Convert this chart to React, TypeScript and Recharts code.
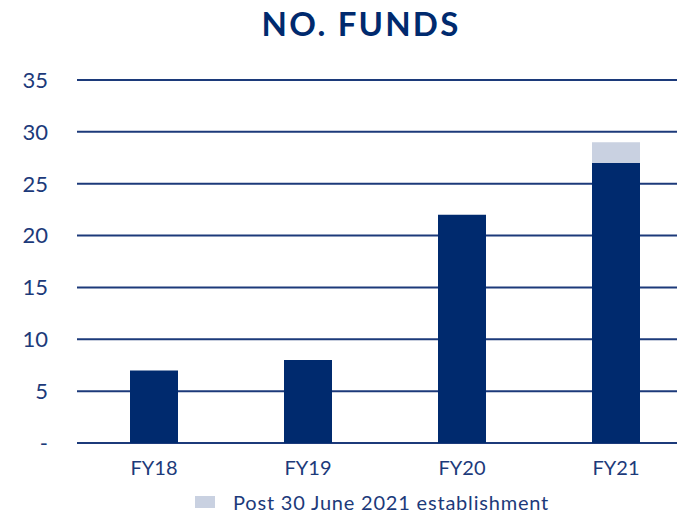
import React from 'react';
import { BarChart, Bar, XAxis, YAxis, CartesianGrid, Legend } from 'recharts';

const years = ['FY18', 'FY19', 'FY20', 'FY21'];
const establishedFunds = [7, 8, 22, 27];
const postJuneFunds = [0, 0, 0, 2];
const yTicks = [0, 5, 10, 15, 20, 25, 30, 35];

const NAVY = '#002a6e';
const LIGHT = '#c9d1e1';
const TEXT = '#1c3a7a';

const data = years.map((year, i) => ({
  year,
  established: establishedFunds[i],
  post: postJuneFunds[i],
}));

const LegendContent = () => (
  <div style={{ display: 'flex', alignItems: 'center', paddingLeft: 195, paddingTop: 5, height: 24, lineHeight: '24px', fontFamily: 'Lato', fontSize: 20, letterSpacing: 0.8, color: TEXT }}>
    <span style={{ display: 'inline-block', width: 20, height: 12, background: LIGHT, marginRight: 18 }} />
    <span>Post 30 June 2021 establishment</span>
  </div>
);

const App = () => {
  return (
    <div style={{ position: 'relative', width: 677, height: 515, overflow: 'hidden', background: '#fff' }}>
      <style>{'html, body { margin: 0; overflow: hidden; }'}</style>
      <div style={{ position: 'absolute', left: 361, top: 3, transform: 'translateX(-50%)', whiteSpace: 'nowrap', fontFamily: 'Lato', fontWeight: 'bold', fontSize: 33, letterSpacing: 2.2, color: NAVY }}>
        NO. FUNDS
      </div>
      <BarChart
        width={693}
        height={515}
        data={data}
        margin={{ top: 80, right: 0, bottom: 0, left: 0 }}
        barSize={48}
        style={{ overflow: 'visible' }}
      >
        <CartesianGrid vertical={false} stroke={TEXT} strokeWidth={2} />
        <XAxis
          dataKey="year"
          axisLine={false}
          tickLine={false}
          tickSize={0}
          tickMargin={18}
          height={42}
          tick={{ fill: TEXT, fontSize: 20, fontFamily: 'Lato' }}
        />
        <YAxis
          domain={[0, 35]}
          ticks={yTicks}
          interval={0}
          width={77}
          axisLine={false}
          tickLine={false}
          tickSize={0}
          tickMargin={29}
          tickFormatter={(v: number) => (v === 0 ? '-' : String(v))}
          tick={{ fill: TEXT, fontSize: 22, fontFamily: 'Lato' }}
        />
        <Legend verticalAlign="bottom" height={30} content={<LegendContent />} />
        <Bar dataKey="established" stackId="a" fill={NAVY} legendType="none" isAnimationActive={false} />
        <Bar dataKey="post" stackId="a" fill={LIGHT} isAnimationActive={false} />
      </BarChart>
    </div>
  );
};

export default App;
